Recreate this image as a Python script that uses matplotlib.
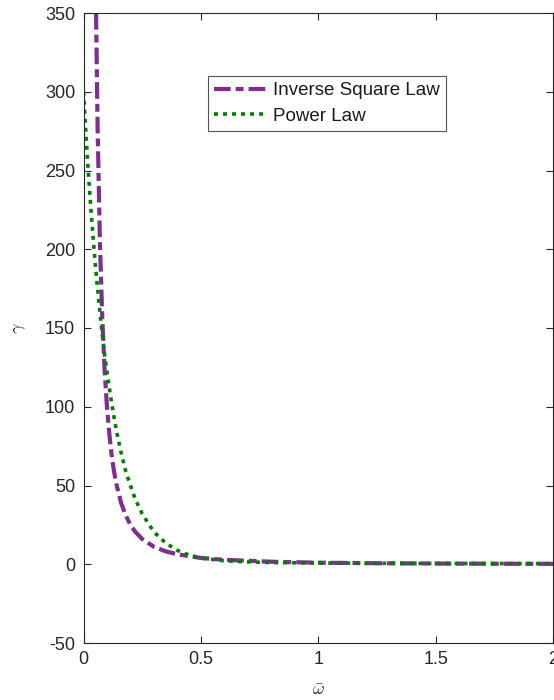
import matplotlib
matplotlib.use("Agg")
import matplotlib.pyplot as plt

plt.rcParams['font.family'] = ['Liberation Sans', 'DejaVu Sans']
plt.rcParams['mathtext.fontset'] = 'cm'
plt.rcParams['axes.unicode_minus'] = False

# Inverse square law curve
omega_isl = [0.0535, 0.06, 0.07, 0.08, 0.09, 0.10, 0.11, 0.12, 0.13, 0.14, 0.16, 0.18,
             0.20, 0.22, 0.25, 0.30, 0.35, 0.40, 0.50, 0.60, 0.80, 1.00, 1.25, 1.50, 1.75, 2.00]
gamma_isl = [350, 278, 204, 156, 123, 100, 83, 69, 59, 51, 39, 31,
             25, 20.7, 16, 11.1, 8.2, 6.3, 4.0, 2.8, 1.6, 1.0, 0.64, 0.44, 0.33, 0.25]

# Power law curve
omega_pl = [0.0, 0.01, 0.02, 0.03, 0.04, 0.05, 0.06, 0.07, 0.08, 0.09, 0.10, 0.12, 0.14,
            0.16, 0.18, 0.20, 0.22, 0.25, 0.30, 0.35, 0.40, 0.45, 0.50, 0.60, 0.70, 0.80,
            1.00, 1.25, 1.50, 1.75, 2.00]
gamma_pl = [300, 274, 250, 229, 209, 191, 175, 160, 146, 133, 122, 102, 85,
            71, 59, 50, 41.5, 32, 20.5, 13.5, 8.8, 5.8, 3.9, 2.2, 1.5, 1.1,
            0.8, 0.62, 0.52, 0.45, 0.4]

xticks = [0, 0.5, 1, 1.5, 2]
xtick_labels = ['0', '0.5', '1', '1.5', '2']
yticks = [-50, 0, 50, 100, 150, 200, 250, 300, 350]

fig = plt.figure(figsize=(5.54, 7.0), dpi=100)
ax = fig.add_axes([83.5 / 554, 57 / 700, 469.5 / 554, 630 / 700])

ax.plot(omega_isl, gamma_isl, color='#7E2F8E', lw=3.0, dashes=(4.0, 1.2, 1.9, 1.2),
        dash_capstyle='butt', label='Inverse Square Law')
ax.plot(omega_pl, gamma_pl, color='#008000', lw=2.6, dashes=(1.1, 1.4),
        dash_capstyle='butt', label='Power Law')

ax.set_xlim(0, 2)
ax.set_ylim(-50, 350)
ax.set_xticks(xticks)
ax.set_xticklabels(xtick_labels)
ax.set_yticks(yticks)

for side in ax.spines.values():
    side.set_color('#262626')
    side.set_linewidth(0.8)
ax.tick_params(direction='in', length=5, width=0.8, colors='#262626',
               labelsize=13, top=True, right=True, pad=6)
for lbl in ax.get_xticklabels() + ax.get_yticklabels():
    lbl.set_color('#262626')

ax.set_xlabel(r'$\bar{\omega}$', fontsize=13, color='#262626', labelpad=10)
ax.set_ylabel(r'$\gamma$', fontsize=13, color='#262626', labelpad=12)

leg = ax.legend(loc='upper left', bbox_to_anchor=((208 - 83.5) / 469.5, 1 - (76 - 13) / 630),
                fontsize=13.5, frameon=True, fancybox=False, handlelength=2.8,
                handletextpad=0.35, borderpad=0.32, labelspacing=0.46, borderaxespad=0)
leg.get_frame().set_edgecolor('#262626')
leg.get_frame().set_linewidth(0.8)
for txt in leg.get_texts():
    txt.set_color('#1a1a1a')

fig.savefig('out.png', dpi=100)
